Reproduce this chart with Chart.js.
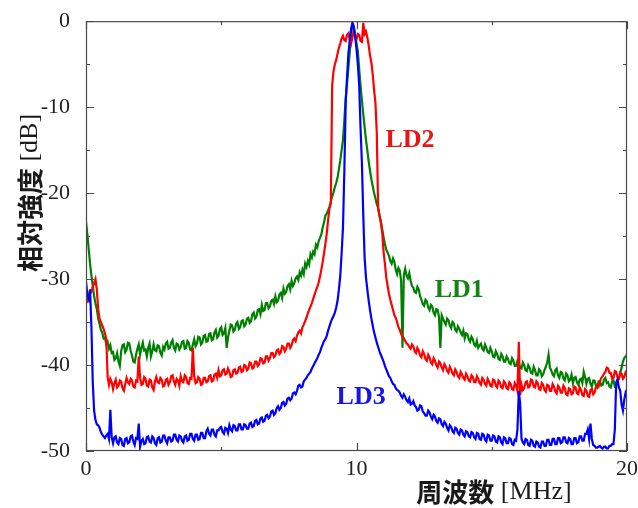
<!DOCTYPE html>
<html>
<head>
<meta charset="utf-8">
<script src="https://cdn.jsdelivr.net/npm/chart.js@4/dist/chart.umd.min.js"></script>
<style>
html,body{margin:0;padding:0;background:#fff;}
#wrap{width:638px;height:508px;}
</style>
</head>
<body>
<div id="wrap"><canvas id="c" width="638" height="508"></canvas></div>
<script>
// ---- Data (frequency MHz, relative level dB) ----
const freq = [
0,0.05,0.1,0.15,0.2,0.25,0.3,0.35,0.4,0.45,0.5,0.55,0.6,0.65,0.7,0.75,0.8,0.85,0.9,0.95,
1,1.05,1.1,1.15,1.2,1.25,1.3,1.35,1.4,1.45,1.5,1.55,1.6,1.65,1.7,1.75,1.8,1.85,1.9,1.95,
2,2.05,2.1,2.15,2.2,2.25,2.3,2.35,2.4,2.45,2.5,2.55,2.6,2.65,2.7,2.75,2.8,2.85,2.9,2.95,
3,3.05,3.1,3.15,3.2,3.25,3.3,3.35,3.4,3.45,3.5,3.55,3.6,3.65,3.7,3.75,3.8,3.85,3.9,3.95,
4,4.05,4.1,4.15,4.2,4.25,4.3,4.35,4.4,4.45,4.5,4.55,4.6,4.65,4.7,4.75,4.8,4.85,4.9,4.95,
5,5.05,5.1,5.15,5.2,5.25,5.3,5.35,5.4,5.45,5.5,5.55,5.6,5.65,5.7,5.75,5.8,5.85,5.9,5.95,
6,6.05,6.1,6.15,6.2,6.25,6.3,6.35,6.4,6.45,6.5,6.55,6.6,6.65,6.7,6.75,6.8,6.85,6.9,6.95,
7,7.05,7.1,7.15,7.2,7.25,7.3,7.35,7.4,7.45,7.5,7.55,7.6,7.65,7.7,7.75,7.8,7.85,7.9,7.95,
8,8.05,8.1,8.15,8.2,8.25,8.3,8.35,8.4,8.45,8.5,8.55,8.6,8.65,8.7,8.75,8.8,8.85,8.9,8.95,
9,9.05,9.1,9.15,9.2,9.25,9.3,9.35,9.4,9.45,9.5,9.55,9.6,9.65,9.7,9.75,9.8,9.85,9.9,9.95,
10,10.05,10.1,10.15,10.2,10.25,10.3,10.35,10.4,10.45,10.5,10.55,10.6,10.65,10.7,10.75,10.8,10.85,10.9,10.95,
11,11.05,11.1,11.15,11.2,11.25,11.3,11.35,11.4,11.45,11.5,11.55,11.6,11.65,11.7,11.75,11.8,11.85,11.9,11.95,
12,12.05,12.1,12.15,12.2,12.25,12.3,12.35,12.4,12.45,12.5,12.55,12.6,12.65,12.7,12.75,12.8,12.85,12.9,12.95,
13,13.05,13.1,13.15,13.2,13.25,13.3,13.35,13.4,13.45,13.5,13.55,13.6,13.65,13.7,13.75,13.8,13.85,13.9,13.95,
14,14.05,14.1,14.15,14.2,14.25,14.3,14.35,14.4,14.45,14.5,14.55,14.6,14.65,14.7,14.75,14.8,14.85,14.9,14.95,
15,15.05,15.1,15.15,15.2,15.25,15.3,15.35,15.4,15.45,15.5,15.55,15.6,15.65,15.7,15.75,15.8,15.85,15.9,15.95,
16,16.05,16.1,16.15,16.2,16.25,16.3,16.35,16.4,16.45,16.5,16.55,16.6,16.65,16.7,16.75,16.8,16.85,16.9,16.95,
17,17.05,17.1,17.15,17.2,17.25,17.3,17.35,17.4,17.45,17.5,17.55,17.6,17.65,17.7,17.75,17.8,17.85,17.9,17.95,
18,18.05,18.1,18.15,18.2,18.25,18.3,18.35,18.4,18.45,18.5,18.55,18.6,18.65,18.7,18.75,18.8,18.85,18.9,18.95,
19,19.05,19.1,19.15,19.2,19.25,19.3,19.35,19.4,19.45,19.5,19.55,19.6,19.65,19.7,19.75,19.8,19.85,19.9,19.95,
20];

const ld1Level = [
-23.3,-24.8,-26.5,-28.2,-29.6,-30.8,-32.0,-32.8,-33.5,-34.6,-35.2,-35.9,-36.2,-36.9,-36.8,-37.6,-37.3,-38.1,-37.7,-38.6,
-38.5,-39.4,-39.2,-38.6,-39.6,-40.1,-38.4,-37.7,-37.6,-38.5,-38.2,-37.4,-37.5,-38.3,-38.9,-39.6,-39.7,-38.8,-38.1,-37.6,
-38.8,-38.0,-37.4,-38.3,-38.2,-39.0,-38.0,-37.5,-39.0,-38.4,-37.6,-38.3,-38.4,-37.7,-37.8,-38.6,-38.9,-37.9,-38.2,-37.5,
-37.3,-38.1,-38.0,-37.4,-37.1,-38.0,-38.3,-37.5,-37.6,-38.2,-37.9,-37.3,-37.2,-38.1,-38.0,-37.2,-37.4,-38.2,-38.3,-37.6,
-37.0,-37.8,-37.5,-36.7,-36.8,-37.6,-37.4,-36.6,-36.5,-37.3,-37.2,-36.4,-36.3,-37.1,-37.0,-36.2,-35.9,-36.8,-36.6,-35.8,
-35.6,-36.5,-36.3,-35.7,-38.0,-36.8,-36.0,-35.3,-35.4,-36.1,-35.9,-35.2,-35.0,-35.8,-35.6,-34.9,-34.8,-35.5,-35.3,-34.6,
-34.5,-35.1,-34.9,-34.1,-33.9,-34.6,-34.4,-33.6,-33.5,-34.1,-33.0,-33.7,-33.6,-32.8,-32.8,-33.4,-33.2,-32.5,-32.4,-32.9,
-32.0,-32.7,-32.5,-31.8,-31.6,-32.2,-31.1,-31.7,-31.5,-30.8,-30.6,-31.2,-30.2,-30.8,-30.5,-29.9,-29.7,-30.1,-29.2,-29.6,
-28.9,-29.4,-28.2,-28.6,-27.9,-28.3,-27.1,-27.5,-26.8,-27.1,-26.0,-26.3,-25.6,-25.2,-24.8,-24.0,-23.4,-22.6,-22.4,-22.0,
-21.6,-21.0,-20.4,-19.9,-19.3,-18.8,-18.2,-17.2,-16.2,-15.0,-13.8,-11.5,-9.0,-7.3,-5.5,-3.6,-1.8,-0.3,-0.8,-1.5,
-2.6,-3.5,-5.6,-7.5,-9.2,-10.8,-12.3,-13.8,-15.0,-16.3,-17.4,-18.4,-19.2,-20.0,-20.6,-21.3,-21.7,-22.6,-23.3,-24.2,
-25.1,-25.9,-26.6,-26.9,-27.3,-27.9,-28.2,-27.6,-28.0,-28.9,-29.4,-28.7,-29.0,-30.2,-38.0,-29.5,-28.8,-29.6,-29.9,-29.3,
-30.2,-30.8,-31.0,-31.5,-31.6,-30.9,-31.2,-32.0,-32.4,-32.9,-33.1,-32.4,-32.6,-33.3,-33.6,-33.0,-33.2,-33.9,-34.2,-33.5,
-33.6,-34.4,-38.0,-34.2,-34.6,-35.0,-35.3,-34.6,-34.8,-35.4,-35.7,-35.0,-35.2,-35.9,-36.1,-35.5,-35.8,-36.2,-36.5,-36.0,
-36.9,-36.3,-36.4,-37.0,-37.3,-36.7,-37.0,-37.6,-37.8,-37.2,-38.0,-37.7,-37.5,-38.1,-38.3,-37.6,-38.0,-38.5,-38.6,-38.0,
-38.4,-39.0,-39.1,-38.4,-38.7,-39.3,-39.4,-38.7,-39.0,-39.6,-39.6,-39.0,-39.3,-39.8,-39.9,-39.2,-39.5,-40.1,-40.1,-39.5,
-39.8,-40.3,-40.4,-39.7,-40.0,-40.6,-40.7,-40.0,-40.3,-40.9,-41.0,-40.2,-40.6,-41.2,-41.2,-40.5,-40.7,-41.3,-41.1,-40.6,
-40.2,-39.7,-38.8,-40.3,-40.6,-41.1,-41.3,-40.6,-40.4,-41.2,-41.5,-40.8,-40.9,-41.6,-41.8,-41.0,-41.2,-41.9,-41.7,-41.1,
-42.1,-41.5,-41.4,-42.0,-42.3,-41.7,-41.6,-42.1,-40.8,-41.4,-42.2,-41.6,-41.5,-42.2,-42.5,-41.8,-41.8,-42.4,-42.6,-41.9,
-41.9,-42.4,-42.3,-41.7,-41.5,-42.1,-42.0,-42.5,-42.6,-41.9,-41.8,-42.5,-42.4,-41.7,-41.6,-40.9,-40.3,-39.6,-39.2,-39.0,
-38.8];

const ld2Level = [
-31.8,-32.6,-32.4,-31.7,-31.5,-30.9,-30.5,-30.0,-31.2,-33.5,-34.6,-35.0,-35.4,-35.8,-36.3,-37.0,-41.4,-42.3,-41.6,-42.0,
-42.8,-42.1,-41.7,-42.6,-42.4,-41.8,-41.9,-42.7,-43.0,-42.2,-41.5,-42.0,-42.2,-41.6,-41.8,-42.5,-42.6,-41.8,-41.9,-39.0,
-41.5,-42.3,-42.2,-41.4,-41.6,-42.4,-42.5,-41.7,-41.8,-42.6,-42.9,-41.9,-41.4,-42.0,-42.1,-41.5,-41.7,-42.5,-42.4,-41.7,
-41.6,-42.3,-42.0,-41.3,-41.2,-41.9,-42.3,-41.6,-41.8,-42.4,-41.3,-41.9,-42.0,-41.2,-41.4,-42.1,-42.2,-41.5,-41.6,-38.0,
-41.3,-42.1,-42.0,-41.4,-41.6,-42.3,-42.2,-41.5,-41.5,-42.0,-41.9,-41.3,-41.2,-41.9,-41.8,-41.1,-41.0,-41.5,-40.6,-41.3,
-41.2,-40.6,-40.5,-41.1,-41.0,-40.4,-40.8,-41.4,-41.3,-40.6,-40.5,-41.0,-40.9,-40.3,-40.2,-40.8,-40.7,-40.0,-40.1,-40.6,
-40.4,-39.7,-39.8,-40.4,-40.3,-39.6,-39.6,-40.1,-39.9,-39.2,-39.3,-39.8,-39.7,-39.0,-39.0,-39.5,-39.2,-38.6,-38.6,-39.1,
-38.9,-38.3,-38.2,-38.7,-38.5,-37.8,-37.9,-38.4,-38.1,-37.5,-37.5,-38.0,-37.7,-37.1,-36.9,-37.2,-36.6,-36.2,-36.0,-36.3,
-35.6,-35.3,-34.9,-34.5,-34.0,-33.6,-33.2,-32.8,-32.3,-31.8,-31.3,-30.9,-30.4,-29.7,-28.9,-28.0,-27.0,-25.9,-24.7,-23.1,
-21.8,-21.2,-7.5,-5.8,-5.0,-4.5,-3.8,-3.1,-2.6,-2.0,-1.7,-2.2,-2.3,-1.6,-1.4,-2.1,-2.6,-1.9,-1.2,-1.8,
-2.1,-1.5,-1.6,-2.3,-2.4,-0.2,-1.5,-1.2,-1.9,-2.8,-4.0,-4.8,-6.2,-8.0,-9.5,-13.0,-21.8,-22.6,-23.4,-24.5,
-26.8,-28.2,-29.8,-30.8,-31.7,-32.4,-33.0,-33.6,-34.2,-34.5,-35.0,-35.6,-35.9,-36.4,-36.7,-36.9,-37.2,-37.5,-37.6,-37.9,
-38.1,-37.6,-37.8,-38.4,-38.6,-38.0,-38.3,-38.9,-39.1,-38.4,-38.7,-39.3,-39.5,-38.8,-39.1,-39.7,-39.9,-39.2,-39.5,-40.0,
-40.3,-39.6,-39.8,-40.3,-40.6,-39.9,-40.2,-40.7,-40.9,-40.2,-40.5,-41.0,-41.2,-40.5,-40.8,-41.3,-41.5,-40.8,-41.1,-41.5,
-41.7,-41.0,-41.3,-41.8,-41.9,-41.2,-41.4,-42.0,-42.0,-41.3,-41.6,-42.1,-42.3,-41.5,-41.7,-42.2,-42.4,-41.6,-41.9,-42.4,
-42.5,-41.7,-41.8,-42.4,-42.6,-41.8,-42.0,-42.6,-42.7,-41.9,-42.1,-42.7,-42.8,-42.0,-42.2,-42.8,-42.9,-42.1,-42.4,-43.0,
-37.3,-43.5,-42.3,-42.9,-42.7,-42.0,-41.9,-42.6,-42.5,-41.7,-41.8,-42.5,-42.6,-41.9,-42.1,-42.8,-42.9,-42.1,-42.3,-42.9,
-43.1,-42.3,-42.4,-43.0,-43.0,-42.2,-42.5,-43.1,-43.3,-42.4,-42.6,-43.2,-43.2,-42.4,-42.7,-43.4,-43.5,-42.7,-42.8,-43.4,
-43.3,-42.5,-42.6,-43.3,-43.4,-42.6,-42.9,-43.5,-43.6,-42.8,-43.0,-43.6,-43.7,-42.9,-42.8,-43.4,-43.2,-42.6,-42.3,-42.5,
-41.9,-41.5,-41.3,-41.0,-40.8,-40.3,-40.4,-40.9,-40.9,-41.6,-41.5,-40.7,-40.8,-41.5,-41.6,-40.9,-41.0,-41.6,-41.4,-40.8,
-40.6];

const ld3Level = [
-30.3,-31.8,-32.3,-31.2,-35.6,-42.0,-45.3,-46.4,-46.9,-47.0,-47.3,-47.8,-48.1,-48.3,-48.5,-48.2,-48.0,-48.6,-45.2,-48.4,
-49.1,-48.4,-48.3,-49.0,-49.2,-48.5,-48.6,-49.3,-49.4,-48.6,-48.5,-49.1,-49.0,-48.3,-48.2,-48.9,-49.3,-48.5,-48.6,-46.8,
-49.5,-48.8,-48.6,-49.2,-49.1,-48.4,-48.3,-48.9,-49.0,-48.3,-48.5,-49.1,-49.3,-48.5,-48.4,-49.0,-48.9,-48.2,-48.2,-48.8,
-49.1,-48.4,-48.4,-48.9,-48.8,-48.1,-48.1,-48.7,-48.9,-48.2,-48.3,-48.8,-49.0,-48.3,-48.2,-48.8,-48.7,-48.0,-48.0,-48.6,
-48.8,-48.1,-48.1,-48.7,-48.6,-47.9,-47.9,-48.5,-48.5,-47.7,-47.4,-48.0,-48.2,-47.5,-47.5,-48.1,-48.3,-47.6,-47.6,-47.3,
-47.2,-47.8,-48.0,-47.3,-47.4,-47.9,-47.0,-47.5,-47.7,-47.0,-47.1,-47.6,-47.6,-46.9,-46.9,-47.5,-47.5,-46.9,-47.0,-47.4,
-47.4,-46.8,-46.7,-47.2,-47.1,-46.5,-46.4,-46.9,-46.8,-46.2,-46.1,-46.6,-46.5,-45.9,-45.8,-46.2,-46.0,-45.4,-45.3,-45.8,
-45.6,-45.0,-44.8,-45.2,-45.0,-44.4,-44.3,-44.7,-44.5,-43.9,-43.8,-44.1,-43.9,-43.3,-43.2,-43.4,-43.0,-42.4,-42.3,-42.6,
-42.5,-41.9,-41.7,-41.5,-41.2,-41.0,-40.8,-40.4,-40.1,-39.8,-39.5,-39.2,-38.8,-38.5,-38.0,-37.6,-37.2,-37.0,-36.6,-36.0,
-35.5,-35.0,-34.6,-34.3,-33.9,-33.3,-32.5,-31.2,-29.6,-27.0,-24.0,-17.5,-9.5,-6.5,-3.8,-2.2,-0.9,-0.2,-0.6,-1.8,
-3.2,-5.0,-7.5,-12.5,-16.5,-22.5,-27.5,-29.8,-31.2,-32.5,-33.6,-34.6,-35.4,-36.2,-36.8,-37.4,-37.9,-38.4,-38.8,-39.2,
-39.6,-40.1,-40.5,-40.9,-41.3,-41.5,-41.9,-42.2,-42.3,-42.7,-42.9,-43.0,-43.2,-43.6,-43.8,-43.4,-43.7,-44.1,-44.3,-43.9,
-44.6,-44.5,-44.2,-44.7,-44.9,-45.3,-45.2,-44.7,-44.8,-45.4,-45.6,-45.9,-45.9,-45.3,-45.5,-46.0,-46.3,-45.8,-46.0,-46.5,
-46.7,-46.2,-46.3,-46.9,-47.1,-46.6,-46.8,-47.3,-47.6,-47.0,-47.2,-47.7,-47.9,-47.3,-47.4,-47.9,-48.1,-47.5,-47.6,-48.1,
-48.3,-47.7,-47.8,-48.3,-48.4,-47.8,-47.9,-48.4,-48.6,-47.9,-48.0,-48.6,-48.7,-48.0,-48.1,-48.7,-48.9,-48.1,-48.2,-48.8,
-48.8,-48.2,-48.3,-48.9,-49.0,-48.3,-48.4,-49.0,-49.2,-48.4,-48.5,-49.1,-49.1,-48.5,-48.6,-49.2,-49.3,-48.7,-48.8,-47.5,
-43.0,-44.5,-48.6,-49.0,-49.2,-48.6,-48.7,-49.3,-49.4,-48.7,-48.8,-49.4,-49.5,-48.9,-49.0,-49.5,-49.6,-48.9,-48.9,-49.4,
-49.4,-48.7,-48.7,-49.3,-49.3,-48.6,-48.6,-49.2,-49.2,-48.5,-48.5,-49.1,-49.0,-48.4,-48.4,-49.0,-49.1,-48.5,-48.6,-49.2,
-49.2,-48.5,-48.5,-49.1,-49.0,-48.3,-48.3,-48.8,-48.8,-48.0,-48.0,-47.5,-48.6,-46.8,-48.6,-49.3,-49.4,-49.6,-49.6,-49.5,
-49.4,-49.6,-49.7,-49.5,-49.5,-49.7,-49.7,-49.4,-49.4,-49.2,-49.2,-47.5,-42.0,-41.7,-42.6,-43.0,-44.6,-45.3,-44.0,-43.2,
-43.5];

const seriesNames = ['LD1','LD2','LD3'];
const xTickValues = [0,10,20];
const yTickValues = [-50,-40,-30,-20,-10,0];
// label anchor positions in data units (freq, level)
const labelFreq = [13.8, 11.98, 10.17];
const labelLevel = [-31.3, -13.9, -43.8];

const colors = ['rgb(0,128,0)','rgb(255,0,0)','rgb(0,0,255)'];
const textColors = ['rgb(20,130,20)','rgb(235,20,20)','rgb(20,20,235)'];

function pts(xs, ys){ return xs.map((x,i)=>({x:x, y:ys[i]})); }

const SERIF = '"Liberation Serif", "Times New Roman", serif';
const CJK = '"Noto Sans CJK JP", "Noto Sans CJK SC", sans-serif';

const overlay = {
  id: 'overlay',
  afterDraw(chart){
    const ctx = chart.ctx, a = chart.chartArea;
    const xs = chart.scales.x, ys = chart.scales.y;
    ctx.save();
    ctx.strokeStyle = '#4a4a4a';
    ctx.lineWidth = 1.2;
    ctx.strokeRect(a.left+0.5, a.top+0.5, a.right-a.left-1, a.bottom-a.top-1);
    ctx.beginPath();
    for (let v=-50; v<=0; v+=5){
      const py = Math.round(ys.getPixelForValue(v))+0.5;
      const L = (v%10===0)?8:4;
      ctx.moveTo(a.left, py); ctx.lineTo(a.left+L, py);
      ctx.moveTo(a.right, py); ctx.lineTo(a.right-L, py);
    }
    for (let v=0; v<=20; v+=5){
      const px = Math.round(xs.getPixelForValue(v))+0.5;
      const L = (v%10===0)?8:4;
      ctx.moveTo(px, a.bottom); ctx.lineTo(px, a.bottom-L);
      ctx.moveTo(px, a.top); ctx.lineTo(px, a.top+L);
    }
    ctx.stroke();
    ctx.textAlign = 'center';
    ctx.textBaseline = 'middle';
    ctx.font = 'bold 26px ' + SERIF;
    for (let i=0;i<seriesNames.length;i++){
      ctx.fillStyle = textColors[i];
      ctx.fillText(seriesNames[i], xs.getPixelForValue(labelFreq[i]), ys.getPixelForValue(labelLevel[i]));
    }
    function mixed(parts, cx, cy){
      let total = 0;
      const w = parts.map(p=>{ctx.font=p[1]; const m=ctx.measureText(p[0]).width; total+=m; return m;});
      let x = cx - total/2;
      ctx.textAlign='left';
      ctx.textBaseline='middle';
      parts.forEach((p,i)=>{ctx.font=p[1]; ctx.fillText(p[0], x, cy); x+=w[i];});
    }
    ctx.fillStyle = '#1a1a1a';
    mixed([['周波数','bold 26px '+CJK],[' [MHz]','26px '+SERIF]], 494, 492);
    ctx.save();
    ctx.translate(30, 193);
    ctx.rotate(-Math.PI/2);
    mixed([['相対強度','bold 26px '+CJK],[' [dB]','26px '+SERIF]], 0, 0);
    ctx.restore();
    ctx.restore();
  }
};

const datasets = [
  {label: seriesNames[2], data: pts(freq, ld3Level), borderColor: colors[2]},
  {label: seriesNames[1], data: pts(freq, ld2Level), borderColor: colors[1]},
  {label: seriesNames[0], data: pts(freq, ld1Level), borderColor: colors[0]}
].map(d=>Object.assign(d,{borderWidth:2.2, pointRadius:0, tension:0, fill:false}));

new Chart(document.getElementById('c'), {
  type: 'line',
  data: {datasets: datasets},
  options: {
    responsive: false,
    animation: false,
    layout: {padding: {top: 19, right: 11, left: 0, bottom: 0}},
    plugins: {legend: {display:false}, tooltip: {enabled:false}},
    scales: {
      x: {
        type: 'linear', min: 0, max: 20,
        grid: {display:false},
        border: {display:false},
        afterBuildTicks(s){ s.ticks = xTickValues.map(v=>({value:v})); },
        afterFit(s){ s.height = 57; },
        ticks: {color:'#222', font:{family:SERIF, size:22}, padding:-3, maxRotation:0}
      },
      y: {
        type: 'linear', min: -50, max: 0,
        grid: {display:false},
        border: {display:false},
        afterBuildTicks(s){ s.ticks = yTickValues.map(v=>({value:v})); },
        afterFit(s){ s.width = 86; },
        ticks: {color:'#222', font:{family:SERIF, size:22}, padding:8}
      }
    }
  },
  plugins: [overlay]
});
</script>
</body>
</html>
